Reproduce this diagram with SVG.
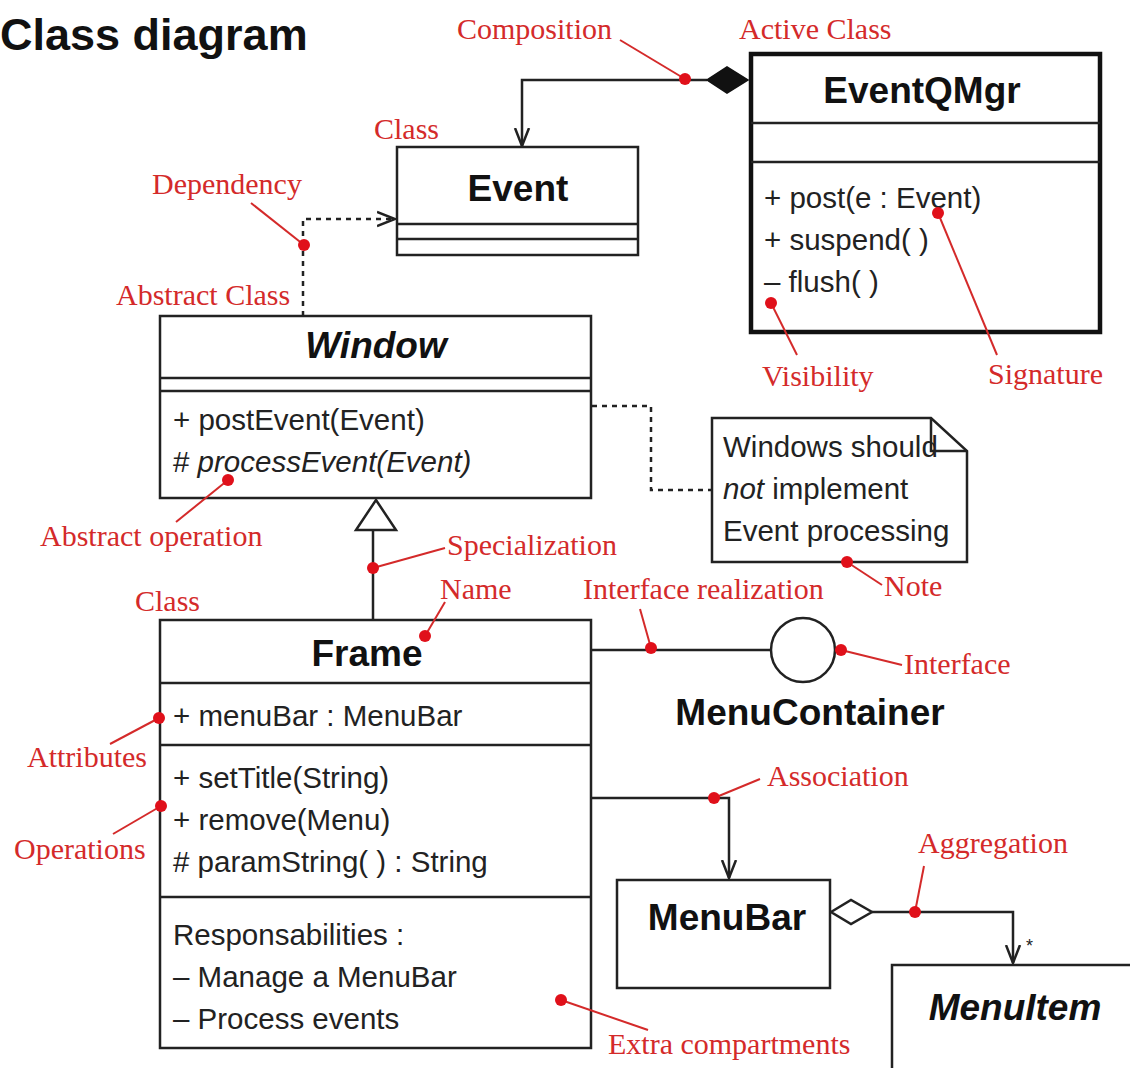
<svg xmlns="http://www.w3.org/2000/svg" width="1130" height="1068" viewBox="0 0 1130 1068">
<defs>
<style>
.box{fill:#fff;stroke:#222;stroke-width:2.5}
.sep{stroke:#222;stroke-width:2.5;fill:none}
.line{stroke:#222;stroke-width:2.5;fill:none}
.dash{stroke:#222;stroke-width:2.5;fill:none;stroke-dasharray:5 5}
.name{font-family:"Liberation Sans",Arial,sans-serif;font-weight:bold;font-size:37px;fill:#111;text-anchor:middle}
.it{font-style:italic}
.body{font-family:"Liberation Sans",Arial,sans-serif;font-size:29.5px;fill:#222}
.lbl{font-family:"Liberation Serif","Times New Roman",serif;font-size:30px;fill:#d42a2a}
.lead{stroke:#d42a2a;stroke-width:2;fill:none}
.dot{fill:#e0101a}
</style>
<marker id="open" viewBox="0 0 20 20" refX="18" refY="10" markerWidth="20" markerHeight="20" markerUnits="userSpaceOnUse" orient="auto">
<path d="M0,3 L18,10 L0,17" fill="none" stroke="#222" stroke-width="2.5"/>
</marker>
</defs>
<rect width="1130" height="1068" fill="#fff"/>
<text x="0" y="50" font-family="Liberation Sans,Arial,sans-serif" font-weight="bold" font-size="45" fill="#111">Class diagram</text>

<g id="connectors">
<path class="line" d="M707,80 H522 V146" marker-end="url(#open)"/>
<path d="M707,80 L727,67 L748,80 L727,93 Z" fill="#111" stroke="#111" stroke-width="1.5"/>
<path class="dash" d="M303,316 V219 H395" marker-end="url(#open)"/>
<path class="line" d="M373,620 V530"/>
<path d="M376,500 L396,530 L356,530 Z" fill="#fff" stroke="#222" stroke-width="2.5"/>
<path class="dash" d="M592,406 H651 V490 H711"/>
<path class="line" d="M592,650 H771"/>
<path class="line" d="M592,798 H729 V878" marker-end="url(#open)"/>
<path d="M831,912 L851,900 L872,912 L851,924 Z" fill="#fff" stroke="#222" stroke-width="2.5"/>
<path class="line" d="M872,912 H1013 V963" marker-end="url(#open)"/>
<text x="1026" y="952" font-family="Liberation Sans,Arial,sans-serif" font-size="18" fill="#222">*</text>
</g>

<g id="Event">
<rect class="box" x="397" y="147" width="241" height="108"/>
<line class="sep" x1="397" y1="224" x2="638" y2="224"/>
<line class="sep" x1="397" y1="239" x2="638" y2="239"/>
<text class="name" x="518" y="201">Event</text>
</g>

<g id="EventQMgr">
<rect x="751" y="54" width="349" height="278" fill="#fff" stroke="#111" stroke-width="4.5"/>
<line class="sep" x1="751" y1="123" x2="1100" y2="123"/>
<line class="sep" x1="751" y1="162" x2="1100" y2="162"/>
<text class="name" x="922" y="103">EventQMgr</text>
<text class="body" x="764" y="208">+ post(e : Event)</text>
<text class="body" x="764" y="250">+ suspend( )</text>
<text class="body" x="764" y="292">– flush( )</text>
</g>

<g id="Window">
<rect class="box" x="160" y="316" width="431" height="182"/>
<line class="sep" x1="160" y1="378" x2="591" y2="378"/>
<line class="sep" x1="160" y1="391" x2="591" y2="391"/>
<text class="name it" x="376" y="358">Window</text>
<text class="body" x="173" y="430">+ postEvent(Event)</text>
<text class="body" x="173" y="472"># <tspan font-style="italic">processEvent(Event)</tspan></text>
</g>

<g id="Note">
<path class="box" d="M712,418 H931 L967,451 V562 H712 Z"/>
<path class="line" d="M931,418 V451 H967"/>
<text class="body" x="723" y="457">Windows should</text>
<text class="body" x="723" y="499"><tspan font-style="italic">not</tspan> implement</text>
<text class="body" x="723" y="541">Event processing</text>
</g>

<g id="MenuContainer">
<circle cx="803" cy="650" r="32" fill="#fff" stroke="#222" stroke-width="2.5"/>
<text class="name" x="810" y="725">MenuContainer</text>
</g>

<g id="Frame">
<rect class="box" x="160" y="620" width="431" height="428"/>
<line class="sep" x1="160" y1="683" x2="591" y2="683"/>
<line class="sep" x1="160" y1="745" x2="591" y2="745"/>
<line class="sep" x1="160" y1="897" x2="591" y2="897"/>
<text class="name" x="367" y="666">Frame</text>
<text class="body" x="173" y="726">+ menuBar : MenuBar</text>
<text class="body" x="173" y="788">+ setTitle(String)</text>
<text class="body" x="173" y="830">+ remove(Menu)</text>
<text class="body" x="173" y="872"># paramString( ) : String</text>
<text class="body" x="173" y="945">Responsabilities :</text>
<text class="body" x="173" y="987">– Manage a MenuBar</text>
<text class="body" x="173" y="1029">– Process events</text>
</g>

<g id="MenuBar">
<rect class="box" x="617" y="880" width="213" height="108"/>
<text class="name" x="727" y="930">MenuBar</text>
</g>

<g id="MenuItem">
<rect class="box" x="892" y="965" width="250" height="120"/>
<text class="name it" x="1015" y="1020">MenuItem</text>
</g>

<g id="annotations">
<text class="lbl" x="457" y="39">Composition</text>
<path class="lead" d="M620,40 L685,79"/><circle class="dot" cx="685" cy="79" r="6"/>
<text class="lbl" x="739" y="39">Active Class</text>
<text class="lbl" x="374" y="139">Class</text>
<text class="lbl" x="152" y="194">Dependency</text>
<path class="lead" d="M251,203 L304,245"/><circle class="dot" cx="304" cy="245" r="6"/>
<text class="lbl" x="116" y="305">Abstract Class</text>
<path class="lead" d="M771,303 L797,355"/><circle class="dot" cx="771" cy="303" r="6"/>
<text class="lbl" x="762" y="386">Visibility</text>
<path class="lead" d="M938,213 L997,355"/><circle class="dot" cx="938" cy="213" r="6"/>
<text class="lbl" x="988" y="384">Signature</text>
<path class="lead" d="M228,480 L176,522"/><circle class="dot" cx="228" cy="480" r="6"/>
<text class="lbl" x="40" y="546">Abstract operation</text>
<path class="lead" d="M373,568 L445,548"/><circle class="dot" cx="373" cy="568" r="6"/>
<text class="lbl" x="447" y="555">Specialization</text>
<path class="lead" d="M847,562 L882,585"/><circle class="dot" cx="847" cy="562" r="6"/>
<text class="lbl" x="884" y="596">Note</text>
<text class="lbl" x="583" y="599">Interface realization</text>
<path class="lead" d="M640,609 L651,648"/><circle class="dot" cx="651" cy="648" r="6"/>
<path class="lead" d="M841,650 L902,665"/><circle class="dot" cx="841" cy="650" r="6"/>
<text class="lbl" x="904" y="674">Interface</text>
<text class="lbl" x="135" y="611">Class</text>
<text class="lbl" x="440" y="599">Name</text>
<path class="lead" d="M445,602 L425,636"/><circle class="dot" cx="425" cy="636" r="6"/>
<path class="lead" d="M159,718 L110,744"/><circle class="dot" cx="159" cy="718" r="6"/>
<text class="lbl" x="27" y="767">Attributes</text>
<path class="lead" d="M161,806 L113,834"/><circle class="dot" cx="161" cy="806" r="6"/>
<text class="lbl" x="14" y="859">Operations</text>
<path class="lead" d="M714,798 L760,779"/><circle class="dot" cx="714" cy="798" r="6"/>
<text class="lbl" x="767" y="786">Association</text>
<path class="lead" d="M915,912 L924,866"/><circle class="dot" cx="915" cy="912" r="6"/>
<text class="lbl" x="918" y="853">Aggregation</text>
<path class="lead" d="M561,1000 L648,1030"/><circle class="dot" cx="561" cy="1000" r="6"/>
<text class="lbl" x="608" y="1054">Extra compartments</text>
</g>
</svg>
